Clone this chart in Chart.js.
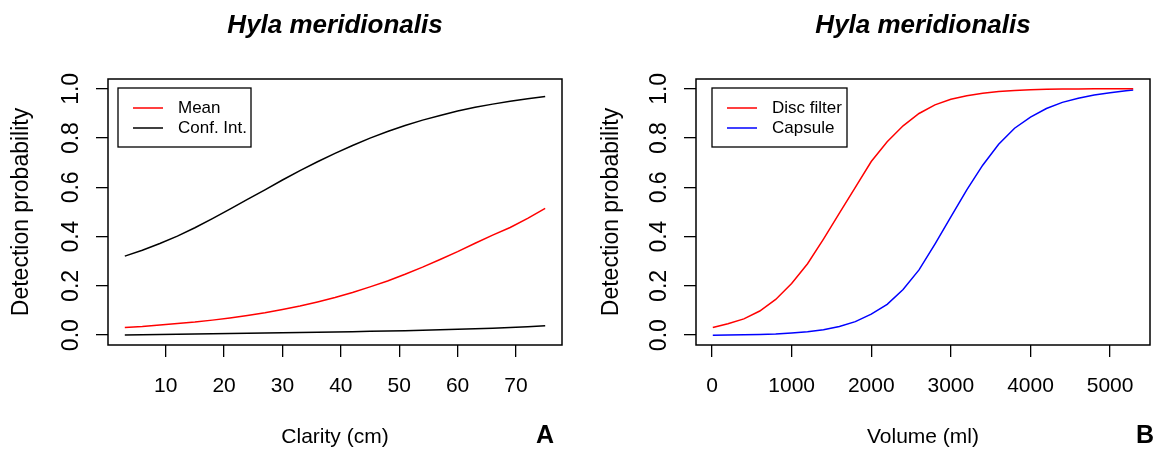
<!DOCTYPE html>
<html>
<head>
<meta charset="utf-8">
<script src="https://cdn.jsdelivr.net/npm/chart.js@4.4.1/dist/chart.umd.min.js"></script>
<style>
  body { margin: 0; background: #fff; }
  .panel { position: absolute; top: 0; height: 450px; }
  #panelA { left: 0; width: 580px; }
  #panelB { left: 580px; width: 583px; }
</style>
</head>
<body>
<div id="panelA" class="panel"><canvas id="chartA"></canvas></div>
<div id="panelB" class="panel"><canvas id="chartB"></canvas></div>
<script>
// Panel A: detection probability vs water clarity
const clarity = [3, 6, 9, 12, 15, 18, 21, 24, 27, 30, 33, 36, 39, 42, 45, 48, 51, 54, 57, 60, 63, 66, 69, 72, 75];
const meanProb = [0.031, 0.035, 0.041, 0.047, 0.053, 0.061, 0.070, 0.080, 0.091, 0.104, 0.118, 0.135, 0.153,
                  0.173, 0.196, 0.220, 0.247, 0.276, 0.307, 0.339, 0.373, 0.406, 0.437, 0.474, 0.515];
const ciUpper = [0.321, 0.345, 0.372, 0.402, 0.436, 0.473, 0.512, 0.551, 0.590, 0.630, 0.668, 0.704, 0.738,
                 0.770, 0.800, 0.827, 0.851, 0.873, 0.892, 0.910, 0.925, 0.938, 0.950, 0.960, 0.969];
const ciLower = [0.001, 0.002, 0.003, 0.004, 0.005, 0.006, 0.007, 0.008, 0.009, 0.010, 0.011, 0.012, 0.013,
                 0.014, 0.016, 0.017, 0.018, 0.020, 0.022, 0.024, 0.026, 0.028, 0.031, 0.034, 0.038];
const clarityTicks = [10, 20, 30, 40, 50, 60, 70];

// Panel B: detection probability vs filtered volume
const volume = [10, 200, 400, 600, 800, 1000, 1200, 1400, 1600, 1800, 2000, 2200, 2400, 2600,
                2800, 3000, 3200, 3400, 3600, 3800, 4000, 4200, 4400, 4600, 4800, 5000, 5200, 5290];
const discFilter = [0.031, 0.046, 0.066, 0.098, 0.145, 0.210, 0.290, 0.390, 0.495, 0.600, 0.705, 0.785, 0.850, 0.900,
                    0.935, 0.958, 0.972, 0.982, 0.989, 0.993, 0.996, 0.998, 0.999, 0.999, 1.000, 1.000, 1.000, 1.000];
const capsule = [0.000, 0.001, 0.002, 0.003, 0.005, 0.009, 0.014, 0.022, 0.035, 0.055, 0.085, 0.125, 0.185, 0.265,
                 0.370, 0.480, 0.590, 0.690, 0.775, 0.840, 0.885, 0.920, 0.945, 0.962, 0.975, 0.984, 0.992, 0.995];
const volumeTicks = [0, 1000, 2000, 3000, 4000, 5000];

const probTicks = [0, 0.2, 0.4, 0.6, 0.8, 1.0];

const FONT = '"Liberation Sans", Arial, sans-serif';

function toPoints(xs, ys) {
    return xs.map((x, i) => ({ x: x, y: ys[i] }));
}

// R style frame, rotated y tick labels, title, legend box and panel letter
const rStylePlugin = {
    id: 'rStyle',
    afterDraw(chart, args, opts) {
        const ctx = chart.ctx;
        const area = chart.chartArea;
        const yScale = chart.scales.y;
        ctx.save();

        // box around the plot region
        ctx.strokeStyle = '#000';
        ctx.lineWidth = 1.5;
        ctx.strokeRect(area.left, area.top, area.right - area.left, area.bottom - area.top);

        // y tick labels, reading upwards like R
        ctx.fillStyle = '#000';
        ctx.font = '23px ' + FONT;
        ctx.textAlign = 'center';
        ctx.textBaseline = 'middle';
        yScale.ticks.forEach(t => {
            const py = yScale.getPixelForValue(t.value);
            ctx.save();
            ctx.translate(area.left - 36, py);
            ctx.rotate(-Math.PI / 2);
            ctx.fillText(t.value.toFixed(1), 0, 0);
            ctx.restore();
        });

        // main title
        ctx.font = 'italic bold 26px ' + FONT;
        ctx.fillText(opts.title, (area.left + area.right) / 2, 26);

        // panel letter
        ctx.font = 'bold 25px ' + FONT;
        ctx.fillText(opts.letter, opts.letterX, 436);

        // legend
        const lx = area.left + opts.legendDx;
        const ly = area.top + 9;
        ctx.lineWidth = 1.3;
        ctx.strokeRect(lx, ly, opts.legendW, 59);
        ctx.font = '17px ' + FONT;
        ctx.textAlign = 'left';
        opts.legend.forEach((item, i) => {
            const rowY = ly + 20 + i * 20;
            ctx.strokeStyle = item.color;
            ctx.lineWidth = 1.5;
            ctx.beginPath();
            ctx.moveTo(lx + 15, rowY);
            ctx.lineTo(lx + 45, rowY);
            ctx.stroke();
            ctx.fillText(item.label, lx + 60, rowY);
        });
        ctx.restore();
    }
};

function makeOptions(xMin, xMax, xTicks, xTitle, yWidth, yTitlePad, rightPad, extra) {
    return {
        responsive: true,
        maintainAspectRatio: false,
        animation: false,
        layout: { padding: { left: 0, right: rightPad, top: 79, bottom: 0 } },
        elements: { point: { radius: 0 }, line: { tension: 0, borderWidth: 1.5 } },
        plugins: {
            legend: { display: false },
            tooltip: { enabled: false },
            rStyle: extra
        },
        scales: {
            x: {
                type: 'linear',
                min: xMin,
                max: xMax,
                afterBuildTicks: scale => { scale.ticks = xTicks.map(v => ({ value: v })); },
                afterFit: scale => { scale.height = 105; },
                border: { display: false },
                grid: { drawOnChartArea: false, drawTicks: true, tickLength: 12, color: '#000', lineWidth: 1.3 },
                ticks: { color: '#000', padding: 17, maxRotation: 0, font: { family: FONT, size: 21 },
                         callback: v => String(v) },
                title: { display: true, text: xTitle, color: '#000', padding: 0, font: { family: FONT, size: 21 } }
            },
            y: {
                type: 'linear',
                min: -0.04,
                max: 1.04,
                afterBuildTicks: scale => { scale.ticks = probTicks.map(v => ({ value: v })); },
                afterFit: scale => { scale.width = yWidth; },
                border: { display: false },
                grid: { drawOnChartArea: false, drawTicks: true, tickLength: 12, color: '#000', lineWidth: 1.3 },
                ticks: { display: false },
                title: { display: true, text: 'Detection probability', color: '#000',
                         padding: { top: yTitlePad, bottom: 0 }, font: { family: FONT, size: 23 } }
            }
        }
    };
}

new Chart(document.getElementById('chartA'), {
    type: 'line',
    data: {
        datasets: [
            { label: 'Mean', data: toPoints(clarity, meanProb), borderColor: '#ff0000' },
            { label: 'Conf. Int.', data: toPoints(clarity, ciUpper), borderColor: '#000000' },
            { label: 'Conf. Int.', data: toPoints(clarity, ciLower), borderColor: '#000000' }
        ]
    },
    options: makeOptions(0.12, 77.88, clarityTicks, 'Clarity (cm)', 108, 8.2, 18, {
        title: 'Hyla meridionalis', letter: 'A', letterX: 545,
        legendDx: 10, legendW: 133,
        legend: [{ label: 'Mean', color: '#ff0000' }, { label: 'Conf. Int.', color: '#000000' }]
    }),
    plugins: [rStylePlugin]
});

new Chart(document.getElementById('chartB'), {
    type: 'line',
    data: {
        datasets: [
            { label: 'Disc filter', data: toPoints(volume, discFilter), borderColor: '#ff0000' },
            { label: 'Capsule', data: toPoints(volume, capsule), borderColor: '#0000ff' }
        ]
    },
    options: makeOptions(-201, 5501, volumeTicks, 'Volume (ml)', 116, 18.2, 13, {
        title: 'Hyla meridionalis', letter: 'B', letterX: 565,
        legendDx: 16, legendW: 135,
        legend: [{ label: 'Disc filter', color: '#ff0000' }, { label: 'Capsule', color: '#0000ff' }]
    }),
    plugins: [rStylePlugin]
});
</script>
</body>
</html>
